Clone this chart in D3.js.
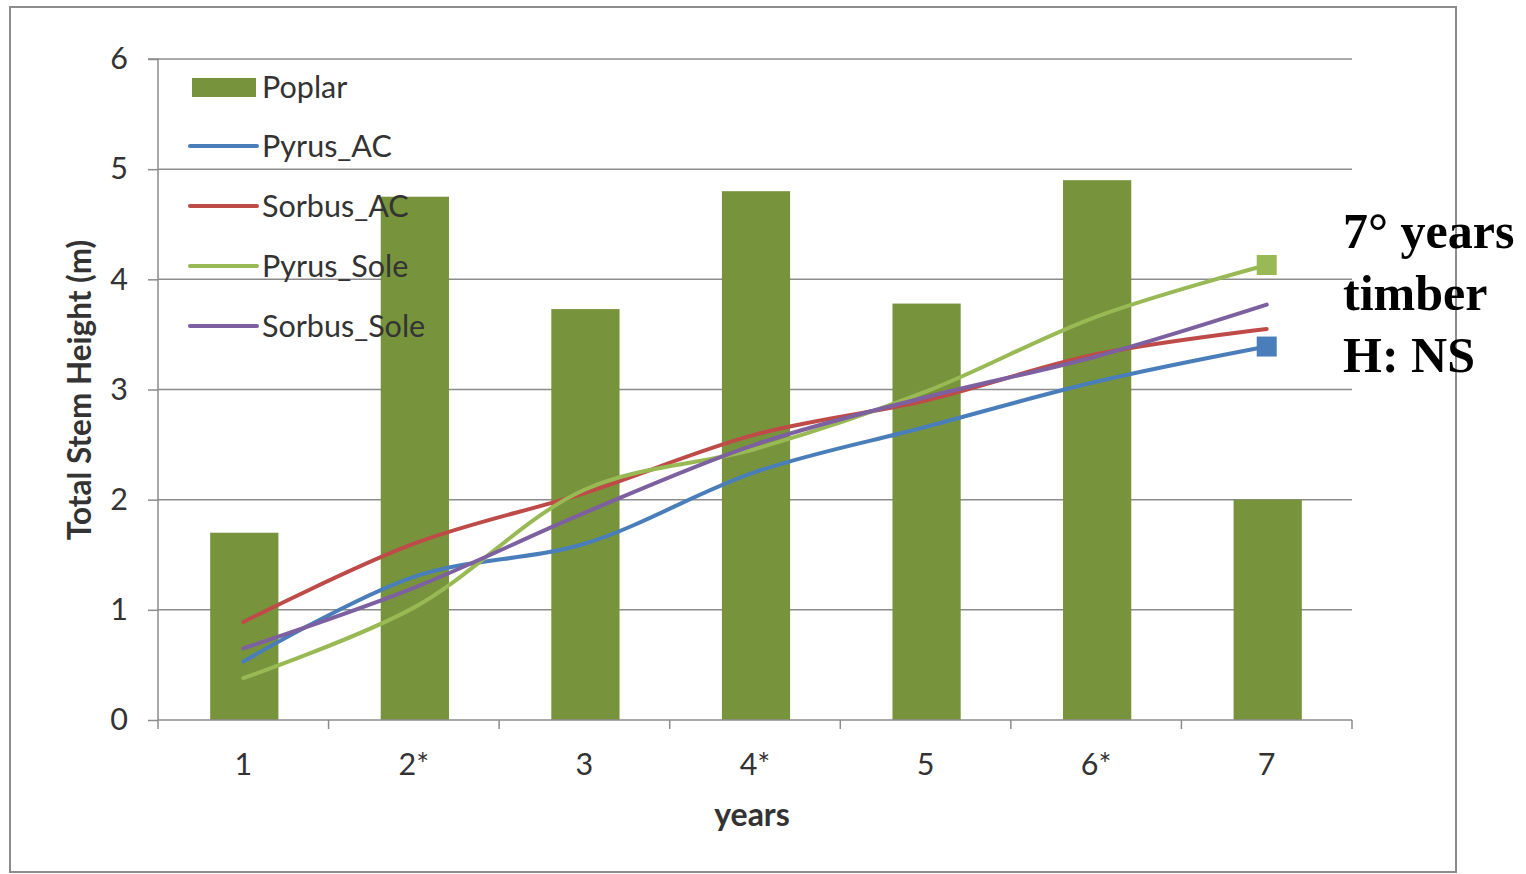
<!DOCTYPE html>
<html><head><meta charset="utf-8">
<script src="https://cdn.jsdelivr.net/npm/d3@7"></script>
<style>body{margin:0;background:#fff;} svg{display:block;}</style>
</head><body>
<svg id="c" width="1526" height="874"></svg>
<script>
const categories = ["1","2*","3","4*","5","6*","7"];
const poplar = [1.7, 4.75, 3.73, 4.8, 3.78, 4.9, 2.0];
const pyrusAC = [0.53, 1.3, 1.6, 2.25, 2.66, 3.07, 3.39];
const sorbusAC = [0.89, 1.6, 2.06, 2.59, 2.9, 3.32, 3.55];
const pyrusSole = [0.38, 1.02, 2.09, 2.46, 2.98, 3.66, 4.13];
const sorbusSole = [0.65, 1.2, 1.88, 2.5, 2.93, 3.3, 3.77];
const yTicks = [0,1,2,3,4,5,6];
const lineSeries = [
  {name:"Pyrus_AC", values:pyrusAC, color:"#4A7EBB", marker:true},
  {name:"Sorbus_AC", values:sorbusAC, color:"#BE4B48", marker:false},
  {name:"Pyrus_Sole", values:pyrusSole, color:"#98B954", marker:true},
  {name:"Sorbus_Sole", values:sorbusSole, color:"#7D60A0", marker:false}
];
const barColor = "#77933C";
const font = "Lato, 'Open Sans', sans-serif";

const svg = d3.select("#c");
// outer frame
svg.append("rect").attr("x",10).attr("y",7).attr("width",1446).attr("height",865)
  .attr("fill","#fff").attr("stroke","#8c8c8c").attr("stroke-width",2);

const pL=158, pR=1352, pT=59, pB=720;
const x = d3.scaleBand().domain(categories).range([pL,pR]).paddingInner(0.6).paddingOuter(0.3);
const xb = d3.scaleBand().domain(categories).range([pL,pR]);
const y = d3.scaleLinear().domain([0,6]).range([pB,pT]);

// gridlines
svg.append("g").selectAll("line").data(yTicks.slice(1)).join("line")
  .attr("x1",pL).attr("x2",pR).attr("y1",d=>y(d)).attr("y2",d=>y(d))
  .attr("stroke","#8c8c8c").attr("stroke-width",1.5);

// y axis
const yAxis = svg.append("g").attr("transform",`translate(${pL},0)`)
  .call(d3.axisLeft(y).tickValues(yTicks).tickSize(10).tickPadding(20).tickFormat(d3.format("d")));
yAxis.select(".domain").attr("stroke","#8c8c8c").attr("stroke-width",1.5).attr("d",`M-10,${pT}H0V${pB}`);
yAxis.selectAll(".tick line").attr("stroke","#8c8c8c").attr("stroke-width",1.5);
yAxis.selectAll("text").attr("font-family",font).attr("font-size",30.5).attr("fill","#333");

// bars
svg.append("g").selectAll("rect").data(poplar).join("rect")
  .attr("x",(d,i)=>x(categories[i])+1).attr("width",x.bandwidth())
  .attr("y",d=>y(d)).attr("height",d=>y(0)-y(d)).attr("fill",barColor);

// x axis
const xAxisG = svg.append("g").attr("transform",`translate(0,${pB})`);
xAxisG.append("line").attr("x1",pL).attr("x2",pR).attr("y1",0).attr("y2",0)
  .attr("stroke","#8c8c8c").attr("stroke-width",1.5);
const bounds = categories.map(c=>xb(c)).concat([pR]);
xAxisG.selectAll("line.t").data(bounds).join("line").attr("class","t")
  .attr("x1",d=>d).attr("x2",d=>d).attr("y1",0).attr("y2",9)
  .attr("stroke","#8c8c8c").attr("stroke-width",1.5);
xAxisG.selectAll("text").data(categories).join("text")
  .attr("x",d=>xb(d)+xb.bandwidth()/2).attr("y",55)
  .attr("text-anchor","middle").attr("font-family",font).attr("font-size",30.5).attr("fill","#333")
  .text(d=>d);

// lines
const cx = i => xb(categories[i]) + xb.bandwidth()/2;
const line = d3.line().x((d,i)=>cx(i)).y(d=>y(d)).curve(d3.curveCatmullRom.alpha(0.5));
lineSeries.forEach(s=>{
  svg.append("path").attr("d",line(s.values)).attr("fill","none")
    .attr("stroke",s.color).attr("stroke-width",4).attr("stroke-linecap","round");
  if(s.marker){
    const i=s.values.length-1;
    svg.append("rect").attr("x",cx(i)-10).attr("y",y(s.values[i])-10)
      .attr("width",20).attr("height",20).attr("fill",s.color);
  }
});

// legend
const lg = svg.append("g");
lg.append("rect").attr("x",192).attr("y",78).attr("width",64).attr("height",19).attr("fill",barColor);
lg.append("text").attr("x",262).attr("y",87).attr("dy","0.35em").attr("font-family",font)
  .attr("font-size",30.5).attr("fill","#333").text("Poplar");
lineSeries.forEach((s,k)=>{
  const yy = 146 + k*60;
  lg.append("line").attr("x1",190).attr("x2",257).attr("y1",yy).attr("y2",yy)
    .attr("stroke",s.color).attr("stroke-width",4).attr("stroke-linecap","round");
  lg.append("text").attr("x",262).attr("y",yy).attr("dy","0.35em").attr("font-family",font)
    .attr("font-size",30.5).attr("fill","#333").text(s.name);
});

// axis titles
svg.append("text").attr("x",752).attr("y",815).attr("dy","0.35em").attr("text-anchor","middle")
  .attr("font-family",font).attr("font-weight","bold").attr("font-size",32).attr("fill","#333").text("years");
svg.append("text").attr("transform","translate(80,390) rotate(-90)").attr("dy","0.35em")
  .attr("text-anchor","middle").attr("font-family",font).attr("font-weight","bold")
  .attr("font-size",31.5).attr("fill","#333").text("Total Stem Height (m)");

// annotation
const ann = ["7° years","timber","H: NS"];
svg.append("g").selectAll("text").data(ann).join("text")
  .attr("x",1343).attr("y",(d,i)=>248+i*62)
  .attr("font-family","'Liberation Serif', 'DejaVu Serif', serif").attr("font-weight","bold")
  .attr("font-size",50).attr("fill","#000").text(d=>d);
</script>
</body></html>
